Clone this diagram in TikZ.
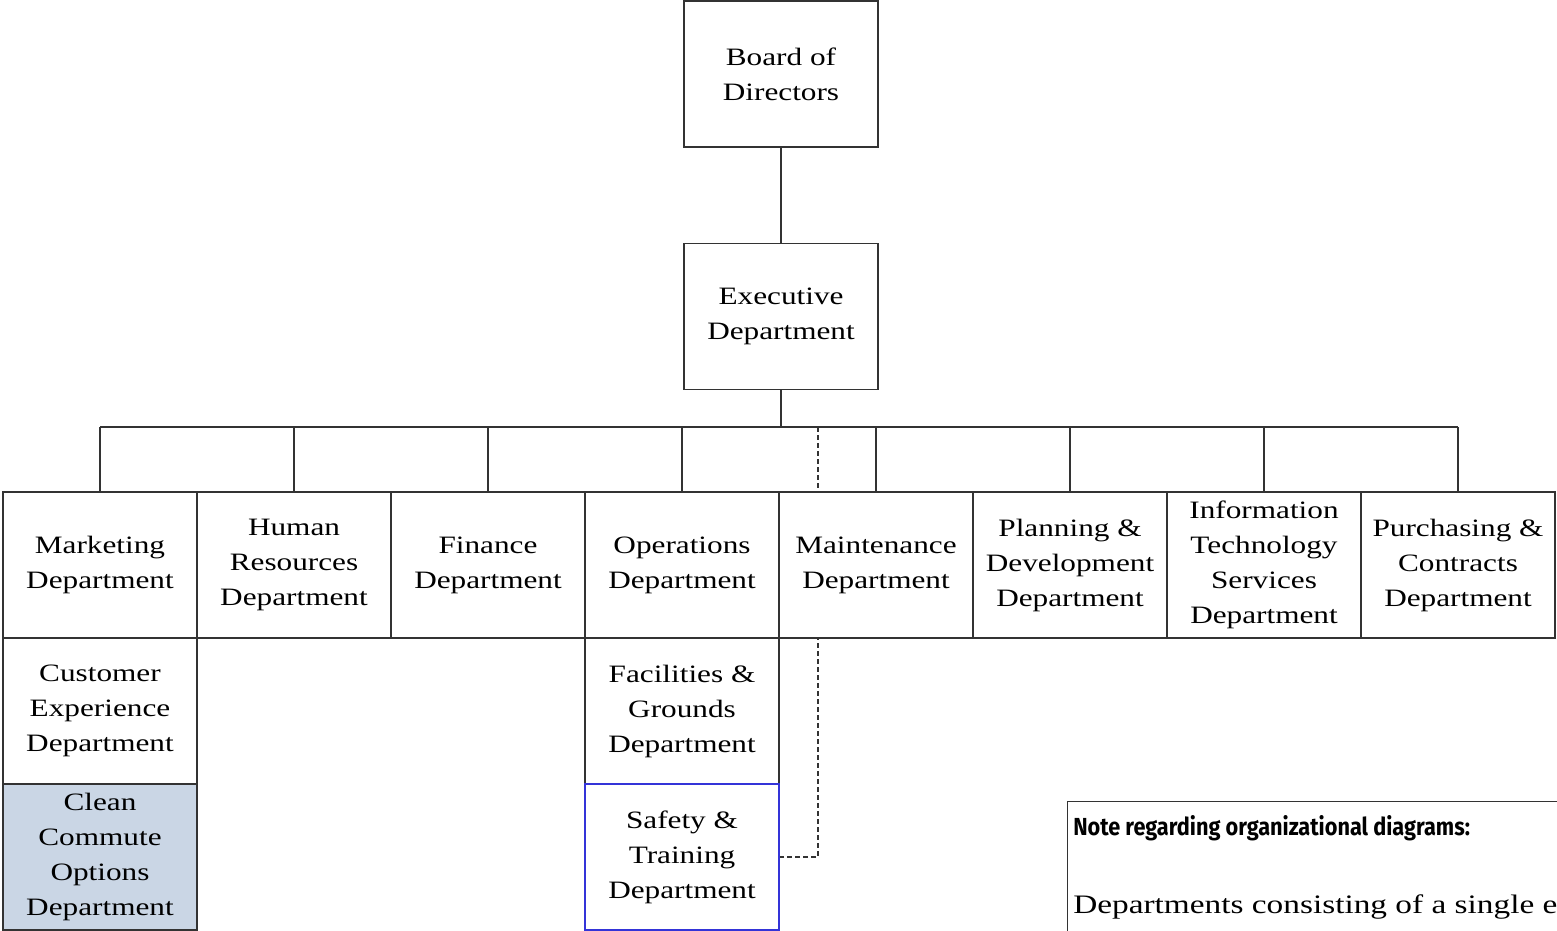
\documentclass[tikz,border=0pt]{standalone}
\usepackage{fontspec}
\setmainfont{Liberation Serif}[FakeStretch=1.25]
\newfontfamily\noteheadfont{Fira Sans}[FakeStretch=0.88]
\usetikzlibrary{backgrounds}
\definecolor{linegray}{HTML}{333333}
\definecolor{commutefill}{HTML}{CAD6E5}
\definecolor{safetyblue}{HTML}{3434D8}
\newcommand\deptfont{\fontsize{18.75}{26.25}\selectfont}
\newcommand\notefont{\fontsize{20}{28}\selectfont}
\tikzset{
  unit/.style={draw=linegray, line width=0.9pt, fill=white, rectangle,
    minimum width=145.5pt, minimum height=109.5pt, inner sep=0pt,
    align=center, font=\deptfont},
  link/.style={draw=linegray, line width=0.9pt},
  dashlink/.style={draw=linegray, line width=0.8pt, dash pattern=on 3.5pt off 2.5pt},
}
\begin{document}
\begin{tikzpicture}[x=0.75pt, y=-0.75pt]
  \useasboundingbox (0,0) rectangle (1557,931);
  \clip (0,0) rectangle (1557,931);

  % top of the hierarchy
  \node[unit] (board) at (781,74) {Board of\\Directors};
  \node[unit] (exec) at (781,316.5) {Executive\\Department};

  % department row
  \node[unit] (marketing) at (100,565) {Marketing\\Department};
  \node[unit] (hr) at (294,565) {Human\\Resources\\Department};
  \node[unit] (finance) at (488,565) {Finance\\Department};
  \node[unit] (ops) at (682,565) {Operations\\Department};
  \node[unit] (maint) at (876,565) {Maintenance\\Department};
  \node[unit] (planning) at (1070,565) {Planning \&\\Development\\Department};
  \node[unit] (its) at (1264,565) {Information\\Technology\\Services\\Department};
  \node[unit] (purchasing) at (1458,565) {Purchasing \&\\Contracts\\Department};

  % sub-departments
  \node[unit] (custexp) at (100,711) {Customer\\Experience\\Department};
  \node[unit, fill=commutefill] (commute) at (100,857) {Clean\\Commute\\Options\\Department};
  \node[unit] (facilities) at (682,711) {Facilities \&\\Grounds\\Department};
  \node[unit, draw=safetyblue] (safety) at (682,857) {Safety \&\\Training\\Department};

  % note panel, running past the right and bottom edges
  \node[draw=linegray, line width=0.9pt, fill=white, rectangle, anchor=north west,
        minimum width=600pt, minimum height=200pt, inner sep=0pt] (note) at (1067,801) {};
  \node[anchor=base west, inner sep=0pt, font=\noteheadfont\bfseries\fontsize{18.5}{22}\selectfont]
    (notehead) at (1073,835) {Note regarding organizational diagrams:};
  \node[anchor=base west, inner sep=0pt, font=\notefont]
    (notebody) at (1073,913) {Departments consisting of a single e};

  % connectors
  \coordinate (busC) at (781,427);
  \coordinate (busL) at (100,427);
  \coordinate (busR) at (1458,427);
  \coordinate (dashTop) at (818,427);
  \begin{scope}[on background layer]
    \draw[link] (board.south) -- (exec.north);
    \draw[link] (exec.south) -- (busC);
    \draw[link] (busL) -- (busR);
    \foreach \n in {marketing,hr,finance,ops,maint,planning,its,purchasing}
      \draw[link] (\n.north |- busL) -- (\n.north);
    \draw[dashlink] (dashTop) -- (dashTop |- safety.east) -- (safety.east);
  \end{scope}
\end{tikzpicture}
\end{document}
